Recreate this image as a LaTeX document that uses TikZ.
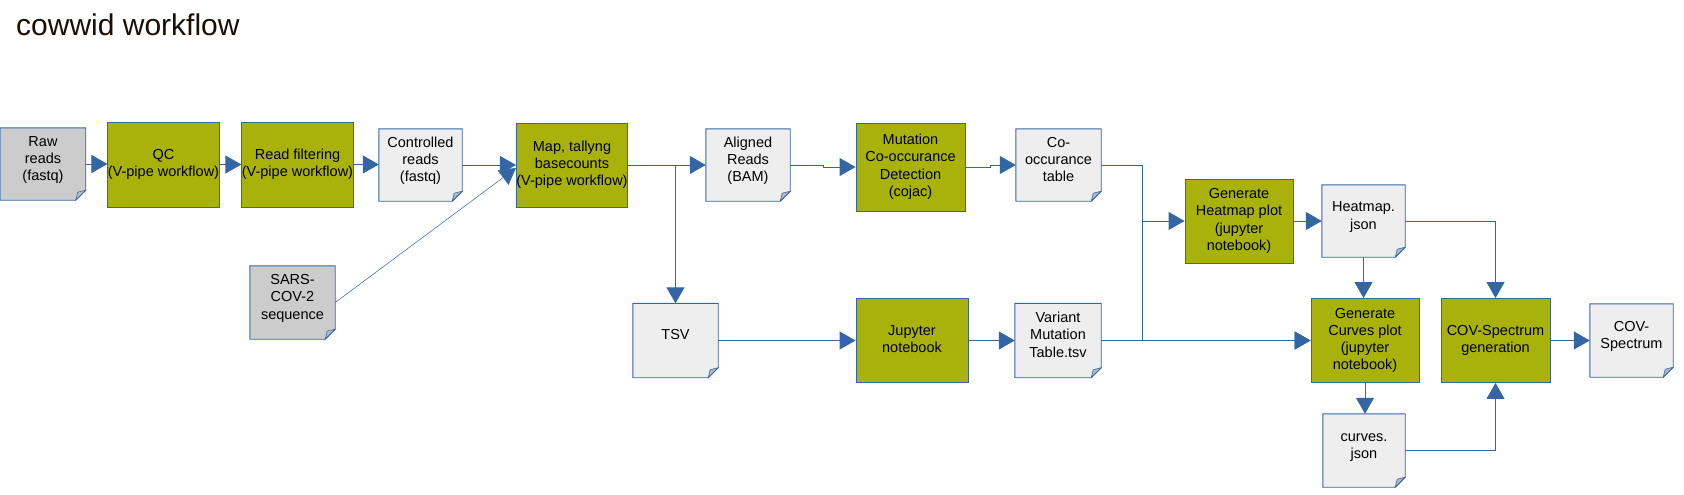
\documentclass[tikz,border=0pt]{standalone}
\usepackage{fontspec}
\setmainfont{Liberation Sans}
\usetikzlibrary{arrows.meta}
\definecolor{edge}{HTML}{3465A4}
\definecolor{procfill}{HTML}{A9B10B}
\definecolor{docfill}{HTML}{EEEEEE}
\definecolor{darkdoc}{HTML}{CCCCCC}
\definecolor{foldfill}{HTML}{B3BAC6}
\definecolor{titlecol}{HTML}{1A0E05}
\newcommand\tx[1]{\begin{tabular}{@{}c@{}}#1\end{tabular}}
\newcommand\dtx[1]{\raisebox{4pt}[\height][\depth]{\tx{#1}}}
\begin{document}
\begin{tikzpicture}[x=1pt,y=-1pt,
  every node/.style={font=\fontsize{14.5}{17.3}\selectfont, inner sep=0pt},
  box/.style 2 args={minimum width=#1pt, minimum height=#2pt},
  proc/.style={rectangle, draw=edge, line width=0.9pt, fill=procfill},
  docnode/.style={rectangle, fill=docfill},
  darkdocnode/.style={rectangle, fill=darkdoc},
  flow/.style={draw=edge, line width=1pt, -{Triangle[length=16pt,width=18pt]}},
  thinflow/.style={draw=edge, line width=0.5pt, -{Triangle[length=16pt,width=18pt]}},
  docborder/.style={draw=edge, line width=0.9pt},
  fold/.style={fill=foldfill, draw=edge, line width=0.6pt}]
\useasboundingbox (0,0) rectangle (1684,495);

\node[anchor=base west, font=\fontsize{30}{35}\selectfont, text=titlecol] (title) at (16,36) {cowwid workflow};

% documents
\node[darkdocnode, box={85}{72}] (raw) at (43,164) {\dtx{Raw\\reads\\(fastq)}};
\node[docnode, box={83}{72}] (ctrl) at (420.5,165) {\dtx{Controlled\\reads\\(fastq)}};
\node[docnode, box={84}{72}] (aln) at (748,165) {\dtx{Aligned\\Reads\\(BAM)}};
\node[docnode, box={85}{72}] (cooc) at (1058.5,165) {\dtx{Co-\\occurance\\table}};
\node[docnode, box={83}{72}] (hjson) at (1363.5,221) {\dtx{Heatmap.\\json}};
\node[docnode, box={83}{73}] (cov) at (1631.5,340.5) {\dtx{COV-\\Spectrum}};
\node[docnode, box={82}{73}] (cjson) at (1364,450.5) {\dtx{curves.\\json}};
\node[darkdocnode, box={85}{73}] (sars) at (292.5,302.5) {\dtx{SARS-\\COV-2\\sequence}};
\node[docnode, box={85}{74}] (tsv) at (675.5,340.5) {\dtx{TSV}};
\node[docnode, box={86}{74}] (var) at (1058,340.5) {\dtx{Variant\\Mutation\\Table.tsv}};

\foreach \n in {raw,ctrl,aln,cooc,hjson,cov,cjson,sars,tsv,var}{
  \fill[white] ([yshift=10pt]\n.south east) -- (\n.south east) -- ([xshift=-10pt]\n.south east) -- cycle;
  \draw[docborder] (\n.north west) -- (\n.north east) -- ([yshift=10pt]\n.south east) -- ([xshift=-10pt]\n.south east) -- (\n.south west) -- cycle;
  \filldraw[fold] ([xshift=-10pt]\n.south east) -- ([xshift=-8pt,yshift=8pt]\n.south east) -- ([yshift=10pt]\n.south east) -- cycle;
}

% processes
\node[proc, box={111}{85}] (qc) at (163.5,164.5) {\tx{QC\\(V-pipe workflow)}};
\node[proc, box={111}{85}] (rf) at (297.5,164.5) {\tx{Read filtering\\(V-pipe workflow)}};
\node[proc, box={110}{84}] (map) at (572,165) {\tx{Map, tallyng\\basecounts\\(V-pipe workflow)}};
\node[proc, box={109}{88}] (mut) at (910.5,167) {\tx{Mutation\\Co-occurance\\Detection\\(cojac)}};
\node[proc, box={108}{84}] (heat) at (1239,221) {\tx{Generate\\Heatmap plot\\(jupyter\\notebook)}};
\node[proc, box={108}{84}] (curv) at (1365,340.5) {\tx{Generate\\Curves plot\\(jupyter\\notebook)}};
\node[proc, box={109}{84}] (covg) at (1495.5,340.5) {\tx{COV-Spectrum\\generation}};
\node[proc, box={112}{84}] (jup) at (912,340.5) {\tx{Jupyter\\notebook}};

% connectors
\draw[flow] (raw.east) -- (raw.east -| qc.west);
\draw[flow] (qc.east) -- (qc.east -| rf.west);
\draw[flow] (rf.east) -- (rf.east -| ctrl.west);
\draw[flow] (ctrl.east) -- (map.west);
\draw[thinflow] (sars.east) -- ([yshift=-3pt]map.west);
\draw[flow] (map.east) -- (aln.west);
\draw[flow] (map.east) -| (tsv.north);
\draw[flow] (aln.east) -- ([xshift=33pt]aln.east) |- (mut.west);
\draw[flow] (mut.east) -- ([xshift=25pt]mut.east) |- (cooc.west);
\draw[flow] (cooc.east) -- ([xshift=41pt]cooc.east) |- (heat.west);
\draw[flow] (cooc.east) -- ([xshift=41pt]cooc.east) |- (curv.west);
\draw[flow] (tsv.east) -- (jup.west);
\draw[flow] (jup.east) -- (var.west);
\draw[flow] (var.east) -- (curv.west);
\draw[flow] (heat.east) -- (hjson.west);
\draw[flow] (hjson.south) -- (hjson.south |- curv.north);
\draw[flow] (hjson.east) -| (covg.north);
\draw[flow] (curv.south) -- (curv.south |- cjson.north);
\draw[flow] (cjson.east) -| (covg.south);
\draw[flow] (covg.east) -- (cov.west);
\end{tikzpicture}
\end{document}
